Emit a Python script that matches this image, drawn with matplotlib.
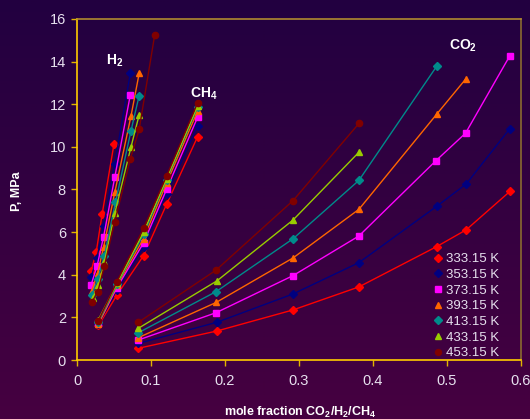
import numpy as np
import matplotlib
matplotlib.use("Agg")
import matplotlib.pyplot as plt
from matplotlib.lines import Line2D

plt.rcParams['font.family'] = ['Liberation Sans', 'DejaVu Sans']
plt.rcParams['mathtext.fontset'] = 'custom'
plt.rcParams['mathtext.rm'] = 'Liberation Sans:bold'
plt.rcParams['mathtext.bf'] = 'Liberation Sans:bold'
plt.rcParams['mathtext.it'] = 'Liberation Sans:bold'

temps = ['333.15 K', '353.15 K', '373.15 K', '393.15 K', '413.15 K', '433.15 K', '453.15 K']
colors = ['#ff0000', '#000080', '#ff00ff', '#ff6600', '#008b8b', '#99cc00', '#800000']
markers = ['D', 'D', 's', '^', 'D', '^', 'o']

# H2 series
h2_x = [
    [0.019, 0.026, 0.034, 0.050],
    [0.019, 0.027, 0.036, 0.051, 0.072],
    [0.019, 0.027, 0.036, 0.051, 0.072],
    [0.020, 0.028, 0.036, 0.051, 0.073, 0.084],
    [0.020, 0.028, 0.037, 0.052, 0.073, 0.084],
    [0.021, 0.029, 0.037, 0.051, 0.073, 0.084],
    [0.020, 0.028, 0.037, 0.051, 0.072, 0.084, 0.105],
]
h2_p = [
    [4.16, 5.07, 6.85, 10.14],
    [3.88, 4.80, 6.30, 9.20, 13.45],
    [3.52, 4.40, 5.79, 8.57, 12.43],
    [3.25, 4.10, 5.30, 7.86, 11.45, 13.45],
    [3.05, 3.80, 4.90, 7.40, 10.76, 12.41],
    [2.90, 3.50, 4.60, 6.88, 10.00, 11.50],
    [2.71, 3.20, 4.40, 6.49, 9.43, 10.82, 15.25],
]

# CH4 series
ch4_x = [0.029, 0.054, 0.090, 0.121, 0.163]
ch4_p = [
    [1.62, 3.05, 4.90, 7.30, 10.48],
    [1.68, 3.30, 5.30, 7.80, 10.98],
    [1.72, 3.40, 5.50, 8.00, 11.39],
    [1.70, 3.50, 5.70, 8.30, 11.68],
    [1.80, 3.55, 5.90, 8.45, 11.87],
    [1.90, 3.60, 6.00, 8.50, 11.92],
    [1.85, 3.68, 6.18, 8.63, 12.07],
]

# CO2 series
co2_x = [
    [0.083, 0.189, 0.292, 0.381, 0.486, 0.526, 0.585],
    [0.083, 0.189, 0.292, 0.381, 0.486, 0.526, 0.585],
    [0.083, 0.188, 0.292, 0.381, 0.485, 0.525, 0.585],
    [0.083, 0.188, 0.292, 0.381, 0.486, 0.525],
    [0.083, 0.188, 0.292, 0.381, 0.486],
    [0.083, 0.189, 0.292, 0.381],
    [0.083, 0.188, 0.292, 0.381],
]
co2_p = [
    [0.55, 1.36, 2.35, 3.43, 5.32, 6.11, 7.91],
    [0.78, 1.77, 3.10, 4.57, 7.21, 8.26, 10.86],
    [0.94, 2.22, 3.96, 5.82, 9.35, 10.64, 14.28],
    [1.05, 2.70, 4.79, 7.07, 11.53, 13.17],
    [1.28, 3.21, 5.69, 8.43, 13.78],
    [1.49, 3.71, 6.57, 9.75],
    [1.77, 4.22, 7.48, 11.10],
]

W, H = 530, 419
fig = plt.figure(figsize=(W / 100, H / 100), dpi=100)

# background gradient
bg = fig.add_axes([0, 0, 1, 1], zorder=-10)
top_c = np.array([0x22, 0x00, 0x40]) / 255.0
bot_c = np.array([0x46, 0x00, 0x40]) / 255.0
t = np.linspace(0, 1, 256)[:, None]
grad = top_c[None, :] * (1 - t) + bot_c[None, :] * t
bg.imshow(grad[:, None, :].repeat(2, axis=1), aspect='auto', extent=[0, 1, 0, 1])
bg.set_axis_off()

ax = fig.add_axes([77 / W, 1 - 360 / H, 444 / W, 341 / H])
ax.patch.set_alpha(0)

ms = {'D': 4.0, 's': 4.5, '^': 5.0, 'o': 4.5}
for i in range(len(temps)):
    for xs, ps in ((h2_x[i], h2_p[i]), (ch4_x, ch4_p[i]), (co2_x[i], co2_p[i])):
        ax.plot(xs, ps, color=colors[i], lw=1.0, marker=markers[i],
                ms=ms[markers[i]], mec=colors[i], mfc=colors[i], clip_on=False)

ax.set_xlim(0, 0.6)
ax.set_ylim(0, 16)
ax.set_xticks([0, 0.1, 0.2, 0.3, 0.4, 0.5, 0.6])
ax.set_xticklabels(['0', '0.1', '0.2', '0.3', '0.4', '0.5', '0.6'])
ax.set_yticks(range(0, 17, 2))

tick_col = '#e6e0ee'
ax.tick_params(axis='both', direction='out', length=4, width=1, color='#e0b400',
               labelcolor=tick_col, labelsize=10.5)
ax.tick_params(axis='x', pad=6)
ax.tick_params(axis='y', pad=4)
ax.spines['left'].set_color('#ffcc00')
ax.spines['bottom'].set_color('#ffcc00')
ax.spines['top'].set_color('#b08a30')
ax.spines['right'].set_color('#8a6a30')
for s in ax.spines.values():
    s.set_linewidth(1.2)

ax.text(0.051, 14.05, r'$\mathregular{H_2}$', color='white', fontsize=10,
        fontweight='bold', ha='center', va='center')
ax.text(0.171, 12.5, r'$\mathregular{CH_4}$', color='white', fontsize=10,
        fontweight='bold', ha='center', va='center')
ax.text(0.521, 14.75, r'$\mathregular{CO_2}$', color='white', fontsize=10,
        fontweight='bold', ha='center', va='center')

fig.text(300 / W, 1 - 412 / H, r'mole fraction CO$_\mathregular{2}$/H$_\mathregular{2}$/CH$_\mathregular{4}$',
         color='white', fontsize=9, fontweight='bold', ha='center', va='center')
fig.text(17 / W, 1 - 191 / H, 'P, MPa', color='white', fontsize=9, fontweight='bold',
         ha='center', va='center', rotation=90)

handles = [Line2D([], [], ls='none', marker=markers[i], color=colors[i],
                  ms=ms[markers[i]] * 0.95) for i in range(len(temps))]
leg = ax.legend(handles, temps, loc='upper left', bbox_to_anchor=(434 / W, 1 - 253 / H),
                bbox_transform=fig.transFigure, frameon=False, fontsize=9.5,
                labelcolor=tick_col, handlelength=0.6, handletextpad=0.3,
                labelspacing=0.26, borderaxespad=0, borderpad=0)

fig.savefig('out.png', dpi=100)
